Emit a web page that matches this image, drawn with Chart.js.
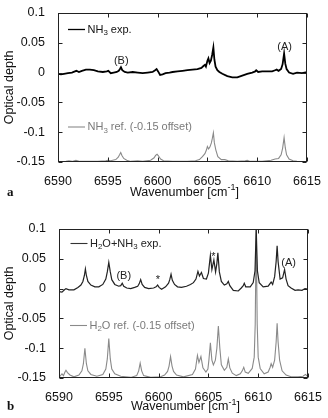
<!DOCTYPE html>
<html>
<head>
<meta charset="utf-8">
<script src="https://cdn.jsdelivr.net/npm/chart.js@4.4.1/dist/chart.umd.min.js"></script>
<style>
  body { margin: 0; background: #fff; width: 328px; height: 418px; position: relative; overflow: hidden; }
  canvas { position: absolute; left: 0; }
  #panelA { top: 0; }
  #panelB { top: 205px; }
</style>
</head>
<body>
<canvas id="panelA" width="328" height="205"></canvas>
<canvas id="panelB" width="328" height="213"></canvas>
<script>
// axis ranges
var xMin = 6590, xMax = 6615, xStep = 5;
var yMin = -0.15, yMax = 0.1, yStep = 0.05;

// panel a: NH3 experiment
var wnExpA = [6590.0,6590.3,6590.6,6591.0,6591.4,6591.7,6591.85,6592.1,6592.4,6592.8,
              6593.2,6593.6,6594.0,6594.5,6594.9,6595.05,6595.3,6595.6,6595.9,6596.1,
              6596.22,6596.32,6596.45,6596.7,6597.0,6597.5,6598.0,6598.5,6599.0,6599.5,
              6599.75,6599.9,6600.05,6600.25,6600.5,6600.8,6601.2,6601.5,6602.0,6602.5,
              6603.0,6603.5,6604.0,6604.4,6604.6,6604.75,6604.85,6605.0,6605.1,6605.22,
              6605.35,6605.48,6605.6,6605.7,6605.82,6606.0,6606.2,6606.5,6607.0,6607.5,
              6608.0,6608.5,6609.0,6609.5,6609.8,6609.9,6610.1,6610.5,6611.0,6611.5,
              6611.8,6611.95,6612.15,6612.4,6612.55,6612.7,6612.82,6612.95,6613.2,6613.6,
              6614.0,6614.5,6615.0];
var expA   = [-0.002,-0.003,-0.002,-0.001,0.000,0.002,0.003,0.001,0.003,0.005,
              0.005,0.004,0.002,0.001,0.002,0.003,-0.001,0.000,0.001,0.003,
              0.006,0.009,0.004,0.001,0.000,0.001,0.000,-0.001,0.000,0.001,
              0.004,0.006,0.002,-0.004,-0.003,-0.001,0.000,0.001,0.002,0.003,
              0.004,0.005,0.006,0.008,0.011,0.013,0.010,0.020,0.024,0.016,
              0.020,0.030,0.042,0.022,0.010,0.004,0.001,-0.002,-0.006,-0.008,
              -0.008,-0.005,-0.002,0.000,0.002,0.004,0.001,0.002,0.002,0.002,
              0.004,0.005,0.003,0.006,0.014,0.032,0.015,0.006,0.000,-0.002,
              0.000,-0.001,0.001];

// panel a: NH3 reference (-0.15 offset)
var wnRefA = [6590.0,6590.8,6591.1,6591.4,6591.8,6592.2,6593.0,6594.0,6594.8,6595.0,
              6595.3,6595.8,6596.05,6596.18,6596.3,6596.42,6596.6,6596.9,6597.3,6598.0,
              6598.5,6599.3,6599.65,6599.8,6599.95,6600.1,6600.3,6600.6,6601.5,6603.0,
              6603.8,6604.2,6604.5,6604.75,6604.9,6605.0,6605.12,6605.25,6605.4,6605.5,
              6605.6,6605.7,6605.85,6606.05,6606.4,6606.75,6607.1,6608.0,6608.8,6609.0,
              6609.3,6610.5,6611.4,6611.8,6612.15,6612.4,6612.55,6612.7,6612.82,6612.95,
              6613.2,6613.6,6614.0,6615.0];
var refA   = [-0.150,-0.149,-0.148,-0.149,-0.147,-0.149,-0.149,-0.149,-0.148,-0.147,
              -0.148,-0.146,-0.142,-0.138,-0.134,-0.139,-0.144,-0.147,-0.149,-0.148,
              -0.149,-0.147,-0.143,-0.139,-0.137,-0.140,-0.145,-0.148,-0.149,-0.149,
              -0.148,-0.146,-0.141,-0.136,-0.130,-0.124,-0.128,-0.125,-0.118,-0.110,
              -0.101,-0.118,-0.130,-0.141,-0.146,-0.146,-0.148,-0.149,-0.148,-0.147,
              -0.149,-0.149,-0.147,-0.145,-0.144,-0.138,-0.127,-0.109,-0.126,-0.138,
              -0.145,-0.148,-0.149,-0.150];

// panel b: H2O+NH3 experiment
var wnExpB = [6590.0,6590.3,6590.55,6590.7,6591.0,6591.5,6591.9,6592.2,6592.4,6592.55,
              6592.65,6592.75,6592.9,6593.2,6593.6,6594.0,6594.4,6594.7,6594.85,6595.0,
              6595.15,6595.3,6595.6,6596.0,6596.2,6596.35,6596.5,6596.8,6597.2,6597.6,
              6597.9,6598.05,6598.2,6598.35,6598.6,6599.0,6599.5,6599.75,6599.9,6600.05,
              6600.3,6600.7,6601.0,6601.12,6601.25,6601.38,6601.6,6601.9,6602.3,6602.8,
              6603.2,6603.5,6603.75,6603.95,6604.1,6604.3,6604.5,6604.8,6605.0,6605.2,
              6605.35,6605.55,6605.72,6605.85,6605.95,6606.1,6606.3,6606.6,6606.85,6607.0,
              6607.15,6607.5,6608.0,6608.3,6608.5,6608.6,6608.75,6609.2,6609.5,6609.68,
              6609.8,6609.92,6610.1,6610.5,6611.0,6611.3,6611.45,6611.65,6611.8,6611.9,
              6612.0,6612.2,6612.45,6612.65,6612.8,6613.0,6613.3,6613.7,6614.0,6614.4,
              6614.7,6615.0];
var expB   = [-0.005,-0.006,-0.002,0.000,-0.002,-0.002,0.002,0.006,0.012,0.022,
              0.033,0.022,0.012,0.006,0.003,0.003,0.007,0.016,0.028,0.044,
              0.028,0.015,0.007,0.004,0.005,0.009,0.004,0.001,0.000,0.002,
              0.004,0.008,0.015,0.007,0.002,0.000,0.001,0.003,0.006,0.002,
              -0.001,0.003,0.009,0.015,0.024,0.014,0.007,0.003,0.002,0.004,
              0.007,0.010,0.016,0.029,0.021,0.027,0.017,0.016,0.026,0.056,
              0.032,0.048,0.028,0.042,0.060,0.028,0.012,0.006,0.008,0.012,
              0.005,-0.003,-0.004,0.001,0.005,0.009,0.003,0.003,0.010,0.030,
              0.100,0.030,0.010,0.003,0.004,0.011,0.007,0.020,0.045,0.072,
              0.045,0.016,0.018,0.032,0.016,0.005,0.001,-0.003,-0.002,-0.003,
              0.000,-0.001];

// panel b: H2O reference (-0.15 offset)
var wnRefB = [6590.0,6590.2,6590.3,6590.45,6590.6,6590.7,6590.85,6591.1,6591.5,6592.0,
              6592.3,6592.45,6592.6,6592.75,6592.9,6593.2,6593.8,6594.4,6594.7,6594.85,
              6595.0,6595.15,6595.3,6595.6,6596.2,6597.2,6597.8,6598.0,6598.15,6598.3,
              6598.5,6599.2,6600.2,6600.6,6600.9,6601.05,6601.2,6601.35,6601.5,6601.8,
              6602.5,6603.4,6603.7,6603.9,6604.05,6604.25,6604.45,6604.75,6604.95,6605.05,
              6605.2,6605.35,6605.5,6605.7,6605.85,6606.0,6606.15,6606.3,6606.6,6606.85,
              6607.0,6607.15,6607.4,6607.8,6608.2,6608.4,6608.55,6608.7,6609.0,6609.4,
              6609.6,6609.7,6609.8,6609.9,6610.0,6610.2,6610.6,6611.0,6611.2,6611.3,
              6611.45,6611.65,6611.8,6611.9,6612.0,6612.15,6612.4,6612.8,6613.3,6614.0,
              6614.5,6614.75,6615.0];
var refB   = [-0.149,-0.145,-0.143,-0.146,-0.140,-0.137,-0.141,-0.145,-0.148,-0.145,
              -0.138,-0.126,-0.100,-0.126,-0.138,-0.144,-0.147,-0.144,-0.135,-0.118,
              -0.084,-0.118,-0.135,-0.143,-0.147,-0.149,-0.146,-0.138,-0.125,-0.138,
              -0.146,-0.149,-0.148,-0.145,-0.139,-0.130,-0.114,-0.130,-0.139,-0.145,
              -0.148,-0.144,-0.135,-0.112,-0.124,-0.114,-0.133,-0.140,-0.135,-0.120,
              -0.091,-0.120,-0.128,-0.120,-0.100,-0.063,-0.100,-0.128,-0.137,-0.132,
              -0.118,-0.133,-0.142,-0.146,-0.143,-0.138,-0.132,-0.140,-0.142,-0.134,
              -0.115,-0.060,0.100,-0.060,-0.115,-0.134,-0.143,-0.140,-0.132,-0.126,
              -0.132,-0.120,-0.090,-0.058,-0.090,-0.120,-0.138,-0.145,-0.148,-0.148,
              -0.147,-0.144,-0.148];

var FONT = '"Liberation Sans", Arial, Helvetica, sans-serif';
var GREY = '#8a8a8a';

function pts(xs, ys) {
  return xs.map(function (x, i) { return { x: x, y: ys[i] }; });
}

// text with sub/superscript pieces
function richText(ctx, parts, x, y, size, color, align) {
  ctx.save();
  ctx.fillStyle = color;
  ctx.textBaseline = 'middle';
  ctx.textAlign = 'left';
  var total = 0;
  parts.forEach(function (p) {
    ctx.font = (p[1] ? size * 0.72 : size) + 'px ' + FONT;
    total += ctx.measureText(p[0]).width;
  });
  var cx = align === 'center' ? x - total / 2 : x;
  parts.forEach(function (p) {
    var s = p[1] ? size * 0.72 : size;
    var dy = p[1] === 'sub' ? 3.5 : (p[1] === 'sup' ? -4.5 : 0);
    ctx.font = s + 'px ' + FONT;
    ctx.fillText(p[0], cx, y + dy);
    cx += ctx.measureText(p[0]).width;
  });
  ctx.restore();
}

function panelPlugin(notes) {
  return {
    id: 'panelDeco',
    afterDraw: function (chart) {
      var ctx = chart.ctx, a = chart.chartArea, x = chart.scales.x, y = chart.scales.y;
      var L = Math.round(a.left) + 0.5, R = Math.round(a.right) - 0.5;
      var T = Math.round(a.top) + 0.5, B = Math.round(a.bottom) - 0.5;
      ctx.save();
      ctx.strokeStyle = '#222';
      ctx.lineWidth = 1;
      ctx.strokeRect(L, T, R - L, B - T);
      // inward tick marks on all four sides
      ctx.beginPath();
      x.ticks.forEach(function (t) {
        var px = Math.round(x.getPixelForValue(t.value)) + 0.5;
        ctx.moveTo(px, B); ctx.lineTo(px, B - 4);
        ctx.moveTo(px, T); ctx.lineTo(px, T + 4);
      });
      y.ticks.forEach(function (t) {
        var py = Math.round(y.getPixelForValue(t.value)) + 0.5;
        ctx.moveTo(L, py); ctx.lineTo(L + 4, py);
        ctx.moveTo(R, py); ctx.lineTo(R - 4, py);
      });
      ctx.stroke();

      // legend entries
      notes.legend.forEach(function (g) {
        var lx = a.left + g.dx, ly = a.top + g.dy;
        ctx.strokeStyle = g.color;
        ctx.lineWidth = g.width;
        ctx.beginPath();
        ctx.moveTo(lx, ly); ctx.lineTo(lx + 17, ly);
        ctx.stroke();
        richText(ctx, g.parts, lx + 19.5, ly, 11, g.textColor, 'left');
      });

      // peak labels at data coordinates
      notes.marks.forEach(function (m) {
        richText(ctx, [[m.text, '']], x.getPixelForValue(m.x), y.getPixelForValue(m.y), 11, '#222', 'center');
      });

      // x axis title with superscript
      richText(ctx, [['Wavenumber [cm', ''], ['-1', 'sup'], [']', '']],
        (a.left + a.right) / 2 + 2, notes.titleY, 12.5, '#111', 'center');

      // panel letter
      ctx.fillStyle = '#111';
      ctx.font = 'bold 13px "Liberation Serif", "Times New Roman", serif';
      ctx.textBaseline = 'middle';
      ctx.textAlign = 'left';
      ctx.fillText(notes.letter, 7, notes.titleY);
      ctx.restore();
    }
  };
}

function makePanel(id, cfg) {
  return new Chart(document.getElementById(id), {
    type: 'line',
    data: {
      datasets: [
        { data: pts(cfg.wnExp, cfg.exp), borderColor: cfg.expColor, borderWidth: cfg.expWidth, pointRadius: 0, tension: 0 },
        { data: pts(cfg.wnRef, cfg.ref), borderColor: GREY, borderWidth: 1.1, pointRadius: 0, tension: 0 }
      ]
    },
    options: {
      responsive: false,
      animation: false,
      layout: { padding: { top: cfg.padTop, right: cfg.padRight, left: 0, bottom: 0 } },
      plugins: { legend: { display: false }, tooltip: { enabled: false } },
      scales: {
        x: {
          type: 'linear', min: xMin, max: xMax,
          grid: { display: false }, border: { display: false },
          ticks: { stepSize: xStep, padding: 4, maxRotation: 0, color: '#111',
                   font: { family: FONT, size: 12.5 },
                   callback: function (v) { return String(v); } },
          afterFit: function (s) { s.height = cfg.xHeight; }
        },
        y: {
          min: yMin, max: yMax,
          grid: { display: false }, border: { display: false },
          ticks: { stepSize: yStep, padding: 5, color: '#111',
                   font: { family: FONT, size: 12.5 },
                   callback: function (v) { return String(+v.toFixed(2)); } },
          title: { display: true, text: 'Optical depth', color: '#111',
                   font: { family: FONT, size: 12.5 }, padding: { top: 2, bottom: 0 } },
          afterFit: function (s) { s.width = cfg.yWidth; }
        }
      }
    },
    plugins: [panelPlugin(cfg.notes)]
  });
}

makePanel('panelA', {
  wnExp: wnExpA, exp: expA, wnRef: wnRefA, ref: refA,
  expColor: '#000', expWidth: 1.8,
  padTop: 13, padRight: 21, xHeight: 43, yWidth: 58,
  notes: {
    letter: 'a', titleY: 192.5,
    legend: [
      { dx: 10, dy: 16.5, color: '#000', width: 1.3, textColor: '#111', parts: [['NH', ''], ['3', 'sub'], [' exp.', '']] },
      { dx: 10, dy: 114, color: GREY, width: 1.1, textColor: '#7a7a7a', parts: [['NH', ''], ['3', 'sub'], [' ref. (-0.15 offset)', '']] }
    ],
    marks: [
      { text: '(B)', x: 6596.35, y: 0.02 },
      { text: '(A)', x: 6612.75, y: 0.043 }
    ]
  }
});

makePanel('panelB', {
  wnExp: wnExpB, exp: expB, wnRef: wnRefB, ref: refB,
  expColor: '#222', expWidth: 1.2,
  padTop: 24, padRight: 20, xHeight: 40, yWidth: 59,
  notes: {
    letter: 'b', titleY: 202,
    legend: [
      { dx: 11.5, dy: 14.5, color: '#333', width: 1.1, textColor: '#222', parts: [['H', ''], ['2', 'sub'], ['O+NH', ''], ['3', 'sub'], [' exp.', '']] },
      { dx: 11, dy: 96.5, color: GREY, width: 1.1, textColor: '#7a7a7a', parts: [['H', ''], ['2', 'sub'], ['O ref. (-0.15 offset)', '']] }
    ],
    marks: [
      { text: '(B)', x: 6596.5, y: 0.022 },
      { text: '*', x: 6599.94, y: 0.015 },
      { text: '*', x: 6605.5, y: 0.053 },
      { text: '(A)', x: 6613.05, y: 0.043 }
    ]
  }
});
</script>
</body>
</html>
